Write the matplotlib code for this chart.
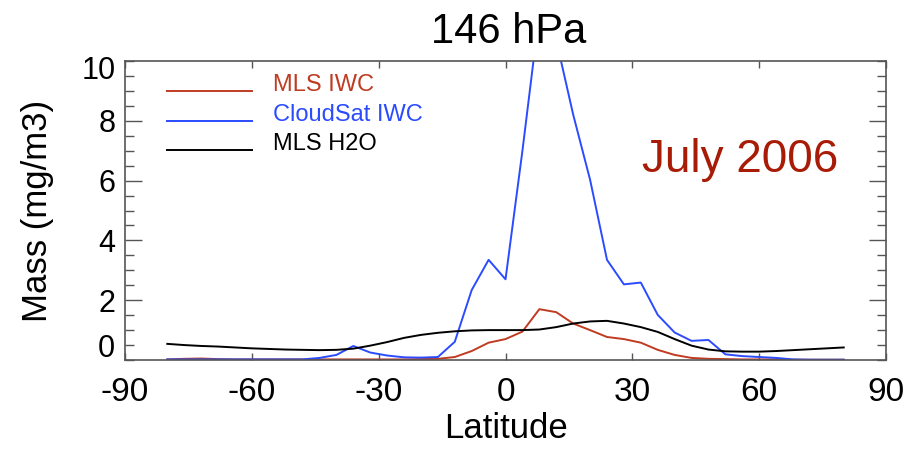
import matplotlib

matplotlib.use("Agg")
import matplotlib.pyplot as plt
import numpy as np
from matplotlib.ticker import MultipleLocator

plt.rcParams["font.family"] = ["Liberation Sans", "DejaVu Sans"]
plt.rcParams["axes.unicode_minus"] = False

# zonal means on a 4-degree latitude grid, 146 hPa, July 2006
lat = np.arange(-80, 81, 4)

mls_iwc = [
    0.02, 0.04, 0.05, 0.03, 0.02, 0.02, 0.02, 0.02, 0.02, 0.02,
    0.02, 0.02, 0.02, 0.02, 0.02, 0.03, 0.04, 0.10, 0.30, 0.58,
    0.70, 0.95, 1.70, 1.60, 1.22, 1.00, 0.77, 0.70, 0.58, 0.34,
    0.17, 0.07, 0.04, 0.03, 0.02, 0.02, 0.02, 0.01, 0.01, 0.01,
    0.01,
]
cloudsat_iwc = [
    0.02, 0.02, 0.02, 0.02, 0.02, 0.02, 0.02, 0.02, 0.02, 0.07,
    0.17, 0.47, 0.25, 0.15, 0.09, 0.08, 0.10, 0.61, 2.34, 3.35,
    2.70, 7.00, 11.6, 10.7, 8.21, 6.03, 3.35, 2.53, 2.59, 1.51,
    0.92, 0.64, 0.67, 0.19, 0.13, 0.10, 0.07, 0.02, 0.01, 0.01,
    0.01,
]
mls_h2o = [
    0.54, 0.50, 0.47, 0.45, 0.42, 0.39, 0.37, 0.35, 0.34, 0.33,
    0.34, 0.38, 0.48, 0.60, 0.74, 0.84, 0.91, 0.96, 0.99, 1.00,
    1.00, 1.00, 1.02, 1.10, 1.22, 1.29, 1.31, 1.22, 1.10, 0.94,
    0.70, 0.48, 0.35, 0.29, 0.28, 0.28, 0.30, 0.33, 0.36, 0.39,
    0.42,
]

series = [
    ("MLS IWC", mls_iwc, "#bf3b22"),
    ("CloudSat IWC", cloudsat_iwc, "#2b4bff"),
    ("MLS H2O", mls_h2o, "black"),
]

xticks = [-90, -60, -30, 0, 30, 60, 90]
yticks = [0.5, 2, 4, 6, 8, 9.78]
ytick_labels = ["0", "2", "4", "6", "8", "10"]

FRAME = "#555555"
LW = 1.4

fig = plt.figure(figsize=(9.24, 4.49), dpi=100)
ax = fig.add_axes([0.1353, 0.1982, 0.8236, 0.6659])

for name, vals, color in series:
    ax.plot(lat, vals, color=color, lw=LW)

ax.set_xlim(-90, 90)
ax.set_ylim(0, 10)
ax.set_xticks(xticks)
ax.set_yticks(yticks)
ax.set_yticklabels(ytick_labels)
ax.yaxis.set_minor_locator(MultipleLocator(0.5))

ax.tick_params(axis="x", direction="in", length=4.8, width=1.0, color=FRAME,
               top=True, labelsize=24, pad=12)
ax.tick_params(axis="y", which="major", direction="in", length=12.5, width=1.0,
               color=FRAME, right=True, labelsize=22, pad=7)
ax.tick_params(axis="y", which="minor", direction="in", length=6.5, width=1.0,
               color=FRAME, right=True)

# "0" sits on a half-unit tick and "10" has no tick of its own
yt = ax.yaxis.get_major_ticks()
for line in (yt[0].tick1line, yt[0].tick2line):
    line.set_markersize(6.5)
for line in (yt[-1].tick1line, yt[-1].tick2line):
    line.set_visible(False)

for sp in ax.spines.values():
    sp.set_color(FRAME)
    sp.set_linewidth(1.2)

ax.set_xlabel("Latitude", fontsize=25)
ax.xaxis.set_label_coords(0.5, -0.175)
ax.set_ylabel("Mass (mg/m3)", fontsize=25)
ax.yaxis.set_label_coords(-0.093, 0.5)

ax.text(0.504, 1.06, "146 hPa", transform=ax.transAxes, ha="center",
        va="baseline", fontsize=30)
ax.text(0.679, 0.629, "July 2006", transform=ax.transAxes, ha="left",
        va="baseline", fontsize=33, color="#a81c07")

# legend drawn IDL style: short line with the label to its right
for i, (name, vals, color) in enumerate(series):
    y = 0.90 - i * 0.099
    ax.plot([0.055, 0.167], [y, y], color=color, lw=LW, transform=ax.transAxes)
    ax.text(0.194, y, name, color=color, fontsize=17, transform=ax.transAxes,
            ha="left", va="baseline")

fig.savefig("out.png", dpi=100)
